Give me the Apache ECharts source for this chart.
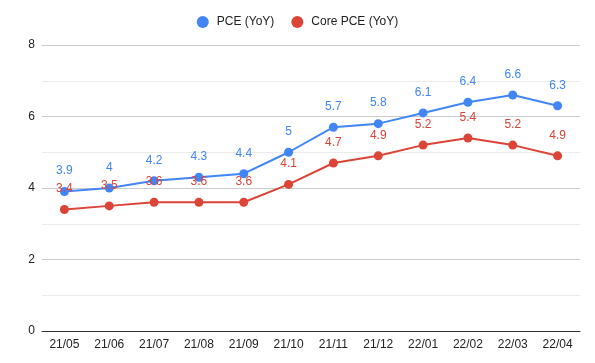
<!DOCTYPE html>
<html><head><meta charset="utf-8">
<script src="https://cdn.jsdelivr.net/npm/echarts@6/dist/echarts.min.js"></script>
<style>html,body{margin:0;padding:0;background:#fff}#c{width:595px;height:363px}</style>
</head><body><div id="c"></div>
<script>
const categories = ['21/05','21/06','21/07','21/08','21/09','21/10','21/11','21/12','22/01','22/02','22/03','22/04'];
const pce = [3.9,4,4.2,4.3,4.4,5,5.7,5.8,6.1,6.4,6.6,6.3];
const corePce = [3.4,3.5,3.6,3.6,3.6,4.1,4.7,4.9,5.2,5.4,5.2,4.9];
const seriesNames = ['PCE (YoY)','Core PCE (YoY)'];
const colors = ['#4285F4','#DB4437'];
const font = 'Arial, "Liberation Sans", sans-serif';
const chart = echarts.init(document.getElementById('c'));
function mk(name, data, color){
  return {name, type:'line', data, color, symbol:'circle', symbolSize:9,
    lineStyle:{width:2, color}, itemStyle:{color},
    label:{show:true, position:'top', distance:10, color, fontSize:12, fontFamily:font},
    emphasis:{disabled:true}};
}
chart.setOption({
  animation:false,
  textStyle:{fontFamily:font},
  legend:{top:11, left:'center', itemWidth:12, itemHeight:12, itemGap:17, icon:'circle',
    textStyle:{color:'#222', fontSize:12, fontFamily:font, padding:[0,0,0,3]}},
  grid:{left:42, right:15, top:45, bottom:32},
  xAxis:{type:'category', data:categories, boundaryGap:true,
    axisLine:{lineStyle:{color:'#333', width:1}}, axisTick:{show:false},
    axisLabel:{color:'#222', fontSize:12, margin:8, fontFamily:font}},
  yAxis:{type:'value', min:0, max:8, interval:2,
    axisLine:{show:false}, axisTick:{show:false},
    axisLabel:{color:'#222', fontSize:12, margin:7, fontFamily:font},
    splitLine:{lineStyle:{color:'#cccccc'}},
    minorTick:{show:false, splitNumber:2},
    minorSplitLine:{show:true, lineStyle:{color:'#ebebeb'}}},
  series:[mk(seriesNames[0], pce, colors[0]), mk(seriesNames[1], corePce, colors[1])]
});
</script></body></html>
